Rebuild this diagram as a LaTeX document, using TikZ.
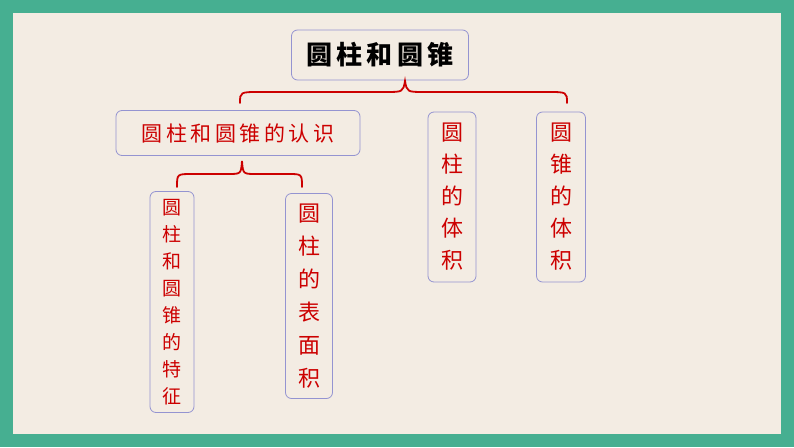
\documentclass[tikz,border=0pt]{standalone}
\usepackage{fontspec}
\newfontfamily\cjk{Noto Sans CJK SC}
\begin{document}
\begin{tikzpicture}[x=1pt,y=-1pt,
  box/.style={draw=gray!60!blue!60, line width=0.8pt, rounded corners=6pt, fill=none, align=center, inner sep=0pt},
  red/.style={text=red!80!black},
  br/.style={draw=red!80!black, line width=1.8pt, line cap=round}]
\useasboundingbox (0,0) rectangle (794,447);
\definecolor{fr}{RGB}{70,175,145}
\definecolor{bg}{RGB}{243,236,227}
\fill[fr] (0,0) rectangle (794,447);
\fill[bg] (13,13) rectangle (781,434);
\node[box, minimum width=177pt, minimum height=50pt, font=\cjk\fontsize{26}{26}\selectfont\bfseries] (t) at (380,55) {圆\,柱\,和\,圆\,锥};
\node[box, red, minimum width=244pt, minimum height=45pt, font=\cjk\fontsize{21}{21}\selectfont] (a) at (238,133) {圆\,柱\,和\,圆\,锥\,的\,认\,识};
\node[box, red, minimum width=48pt, minimum height=170pt, font=\cjk\fontsize{22}{32}\selectfont] (b) at (452,197) {圆\\柱\\的\\体\\积};
\node[box, red, minimum width=49pt, minimum height=170pt, font=\cjk\fontsize{22}{32}\selectfont] (c) at (561,197) {圆\\锥\\的\\体\\积};
\node[box, red, minimum width=44pt, minimum height=221pt, font=\cjk\fontsize{19}{27}\selectfont] (d) at (172,302) {圆\\柱\\和\\圆\\锥\\的\\特\\征};
\node[box, red, minimum width=47pt, minimum height=205pt, font=\cjk\fontsize{22}{33}\selectfont] (e) at (309,296) {圆\\柱\\的\\表\\面\\积};
\draw[br] (240,103) .. controls (240,92) .. (260,92) -- (385,92) .. controls (403,92) .. (405,81)
  .. controls (407,92) .. (425,92) -- (547,92) .. controls (567,92) .. (567,103);
\draw[br] (177,187) .. controls (177,174) .. (192,174) -- (228,174) .. controls (241,174) .. (242,161)
  .. controls (243,174) .. (256,174) -- (288,174) .. controls (302,174) .. (302,187);
\end{tikzpicture}
\end{document}
